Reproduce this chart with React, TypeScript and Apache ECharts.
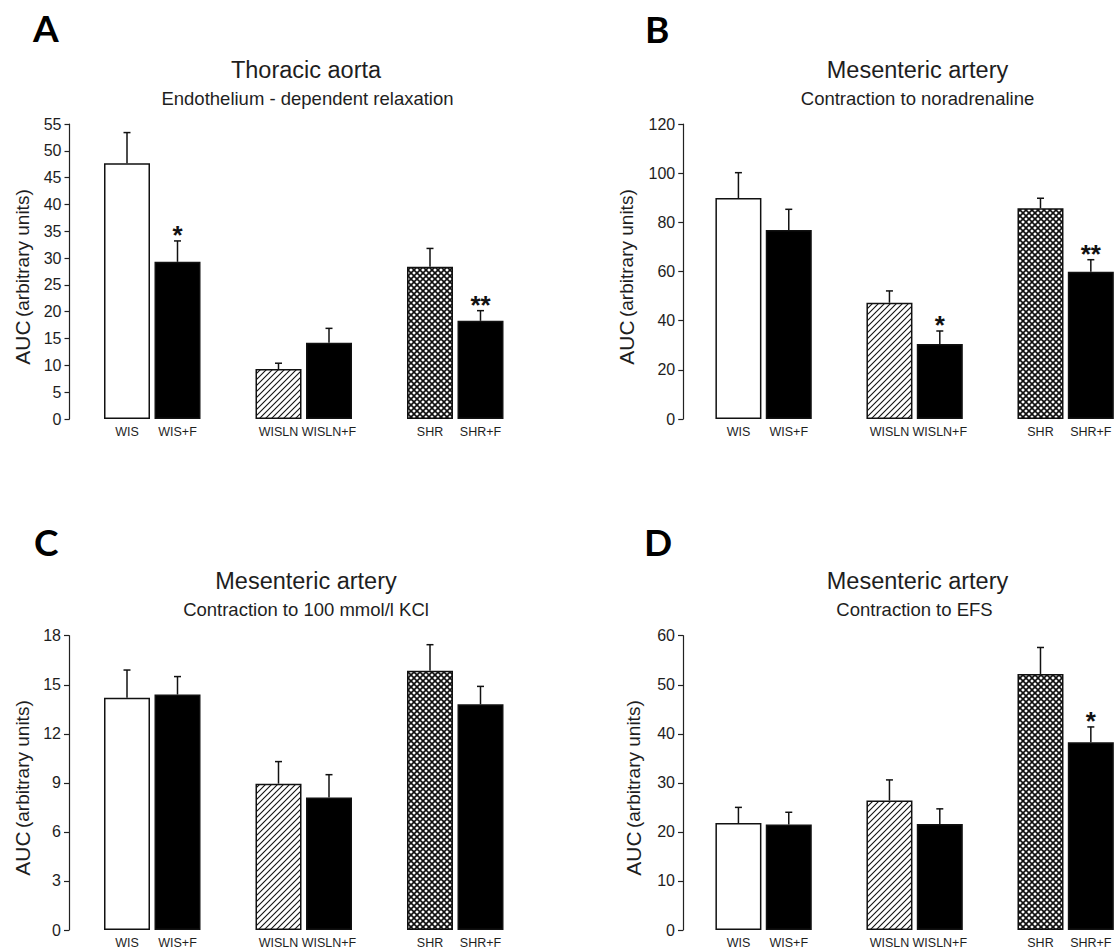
import React, { useEffect, useRef } from 'react';
import * as echarts from 'echarts';

// ---------- data ----------
const slotLabels = ['WIS', 'WIS+F', '', 'WISLN', 'WISLN+F', '', 'SHR', 'SHR+F'];
const barSlots = [0, 1, 3, 4, 6, 7];
const fillKinds = ['white', 'black', 'diag', 'black', 'cross', 'black'];

const aMeans = [47.7, 29.3, 9.3, 14.2, 28.4, 18.3];
const aSem = [5.7, 3.9, 1.1, 2.7, 3.4, 1.9];
const aStars = ['', '*', '', '', '', '**'];

const bMeans = [89.9, 76.9, 47.3, 30.5, 85.7, 59.9];
const bSem = [10.3, 8.4, 4.8, 5.3, 4.1, 4.9];
const bStars = ['', '', '', '*', '', '**'];

const cMeans = [14.2, 14.4, 8.95, 8.1, 15.85, 13.8];
const cSem = [1.7, 1.1, 1.35, 1.4, 1.6, 1.1];
const cStars = ['', '', '', '', '', ''];

const dMeans = [21.8, 21.5, 26.4, 21.6, 52.2, 38.3];
const dSem = [3.2, 2.5, 4.2, 3.1, 5.4, 3.1];
const dStars = ['', '', '', '', '', '*'];

const yScales = [
  { min: 0, max: 55, interval: 5 },
  { min: 0, max: 120, interval: 20 },
  { min: 0, max: 18, interval: 3 },
  { min: 0, max: 60, interval: 10 },
];
const panelLetters = ['A', 'B', 'C', 'D'];
const panelTitles = ['Thoracic aorta', 'Mesenteric artery', 'Mesenteric artery', 'Mesenteric artery'];
const panelSubtitles = [
  'Endothelium - dependent relaxation',
  'Contraction to noradrenaline',
  'Contraction to 100 mmol/l KCl',
  'Contraction to EFS',
];
const yName = 'AUC';
const yNameUnits = '(arbitrary units)';

// ---------- layout ----------
const FONT = '"Liberation Sans", Arial, Helvetica, sans-serif';
const TXT = '#1e1e1e';
const layout = [
  { gx: 101.75, gy: 124, off: 32.25, tx: 306, ty: 69.5, sx: 307.5, sy: 98.5, lx: 33, ly: 27, nx: 22.5, ny: 277 },
  { gx: 713.25, gy: 124, off: 30, tx: 917.5, ty: 69.5, sx: 917.5, sy: 98.5, lx: 645, ly: 28.5, nx: 626, ny: 277 },
  { gx: 101.75, gy: 635.7, off: 32.75, tx: 306, ty: 580.5, sx: 306, sy: 609, lx: 34, ly: 541, nx: 22.5, ny: 788 },
  { gx: 713.25, gy: 635.7, off: 30.25, tx: 917.5, ty: 580.5, sx: 914.5, sy: 609, lx: 644, ly: 541, nx: 633, ny: 788 },
];

function makePattern(kind: string) {
  const p = 6;
  const c = document.createElement('canvas');
  c.width = p;
  c.height = p;
  const ctx = c.getContext('2d')!;
  ctx.fillStyle = '#ffffff';
  ctx.fillRect(0, 0, p, p);
  ctx.strokeStyle = '#111111';
  ctx.lineWidth = kind === 'cross' ? 1.6 : 1.1;
  const seg = (x1: number, y1: number, x2: number, y2: number) => {
    ctx.beginPath();
    ctx.moveTo(x1, y1);
    ctx.lineTo(x2, y2);
    ctx.stroke();
  };
  seg(-p, p, p, -p);
  seg(0, p, p, 0);
  seg(0, 2 * p, 2 * p, 0);
  if (kind === 'cross') {
    seg(-p, 0, p, 2 * p);
    seg(0, 0, p, p);
    seg(0, -p, 2 * p, p);
  }
  return { image: c, repeat: 'repeat', imageWidth: p, imageHeight: p } as any;
}

export default function App() {
  const ref = useRef<HTMLDivElement>(null);

  useEffect(() => {
    if (!ref.current) return;
    const chart = echarts.init(ref.current, undefined, { renderer: 'svg' });

    const diag = makePattern('diag');
    const cross = makePattern('cross');
    const fillFor = (k: string) =>
      k === 'white' ? '#ffffff' : k === 'black' ? '#000000' : k === 'diag' ? diag : cross;

    const means = [aMeans, bMeans, cMeans, dMeans];
    const sems = [aSem, bSem, cSem, dSem];
    const stars = [aStars, bStars, cStars, dStars];

    const grids = layout.map((l) => ({ left: l.gx, top: l.gy, width: 404, height: 295 }));
    const xAxes = layout.map((_, i) => ({
      type: 'category',
      gridIndex: i,
      data: slotLabels,
      axisLine: { show: false },
      axisTick: { show: false },
      splitLine: { show: false },
      axisLabel: { interval: 0, margin: 6, fontSize: 12.5, color: TXT, fontFamily: FONT },
    }));
    const yAxes = layout.map((l, i) => ({
      type: 'value',
      gridIndex: i,
      min: yScales[i].min,
      max: yScales[i].max,
      interval: yScales[i].interval,
      offset: l.off,
      axisLine: { show: true, lineStyle: { color: '#222', width: 1.2 } },
      axisTick: { show: true, length: 5, inside: false, lineStyle: { color: '#222', width: 1.2 } },
      splitLine: { show: false },
      axisLabel: { margin: 8, fontSize: 16, color: TXT, fontFamily: FONT },
    }));

    const series: any[] = [];
    layout.forEach((_, i) => {
      const slotData: any[] = slotLabels.map(() => '-');
      barSlots.forEach((s, k) => {
        slotData[s] = {
          value: means[i][k],
          itemStyle: { color: fillFor(fillKinds[k]), borderColor: '#111', borderWidth: 1.5 },
        };
      });
      series.push({
        type: 'bar',
        xAxisIndex: i,
        yAxisIndex: i,
        barWidth: 46,
        data: slotData,
        silent: true,
      });
      const st = stars[i];
      series.push({
        type: 'custom',
        xAxisIndex: i,
        yAxisIndex: i,
        z: 5,
        encode: { x: 0, y: 1 },
        data: means[i].map((m, k) => [barSlots[k], m, sems[i][k]]),
        renderItem: (params: any, api: any) => {
          const idx = api.value(0);
          const m = api.value(1);
          const s = api.value(2);
          const p0 = api.coord([idx, m]);
          const p1 = api.coord([idx, m + s]);
          const x = p0[0];
          const children: any[] = [
            {
              type: 'line',
              shape: { x1: x, y1: p0[1], x2: x, y2: p1[1] },
              style: { stroke: '#111', lineWidth: 1.5 },
            },
            {
              type: 'line',
              shape: { x1: x - 3.5, y1: p1[1], x2: x + 3.5, y2: p1[1] },
              style: { stroke: '#111', lineWidth: 1.5 },
            },
          ];
          const star = st[params.dataIndex];
          if (star) {
            children.push({
              type: 'text',
              x: x,
              y: p1[1] - 6,
              style: {
                text: star,
                fontSize: 26,
                fontWeight: 'bold',
                fontFamily: FONT,
                fill: '#111',
                align: 'center',
                verticalAlign: 'middle',
              },
            });
          }
          return { type: 'group', children };
        },
      });
    });

    const graphics: any[] = [];
    layout.forEach((l, i) => {
      graphics.push({
        type: 'text',
        x: l.lx,
        y: l.ly,
        style: {
          text: panelLetters[i],
          fontSize: 37,
          fontWeight: 'bold',
          fontFamily: 'Lato, "Open Sans", sans-serif',
          fill: '#000',
          align: 'left',
          verticalAlign: 'middle',
        },
      });
      graphics.push({
        type: 'text',
        x: l.tx,
        y: l.ty,
        style: {
          text: panelTitles[i],
          fontSize: 23.5,
          fontFamily: FONT,
          fill: TXT,
          align: 'center',
          verticalAlign: 'middle',
        },
      });
      graphics.push({
        type: 'text',
        x: l.sx,
        y: l.sy,
        style: {
          text: panelSubtitles[i],
          fontSize: 18.5,
          fontFamily: FONT,
          fill: TXT,
          align: 'center',
          verticalAlign: 'middle',
        },
      });
      graphics.push({
        type: 'text',
        x: l.nx,
        y: l.ny,
        rotation: Math.PI / 2,
        style: {
          text: '{a|' + yName + '} {b|' + yNameUnits + '}',
          align: 'center',
          verticalAlign: 'middle',
          fill: TXT,
          rich: {
            a: { fontSize: 21, fontFamily: FONT, fill: TXT },
            b: { fontSize: 19, fontFamily: FONT, fill: TXT },
          },
        },
      });
    });

    chart.setOption({
      animation: false,
      backgroundColor: '#ffffff',
      grid: grids,
      xAxis: xAxes,
      yAxis: yAxes,
      series,
      graphic: graphics,
    });

    return () => chart.dispose();
  }, []);

  return (
    <div
      ref={ref}
      style={{ position: 'absolute', left: 0, top: 0, width: 1116, height: 949, background: '#fff' }}
    />
  );
}
